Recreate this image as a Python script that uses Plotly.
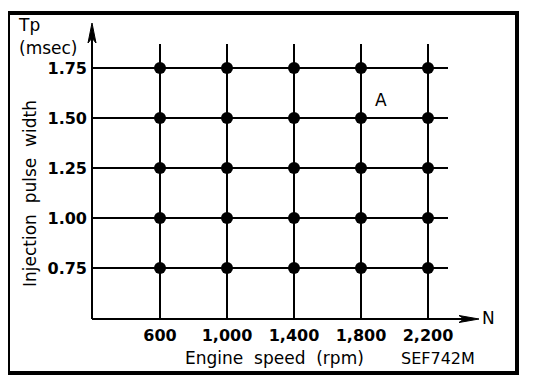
import plotly.graph_objects as go

# ---- data ----
engine_speed = [600, 1000, 1400, 1800, 2200]
pulse_width = [0.75, 1.00, 1.25, 1.50, 1.75]
x_tick_labels = ["600", "1,000", "1,400", "1,800", "2,200"]
y_tick_labels = ["0.75", "1.00", "1.25", "1.50", "1.75"]

# ---- layout geometry (page pixels; page has an 8px body margin) ----
W, H = 544, 384
OFF = 8
PL, PR, PT, PB = 92, 479, 23, 319        # plot area in page pixels
XS = 268 / 1600.0                         # px per rpm
YS = 200.0                                # px per msec


def xd(px):
    return 600 + (px - 160) / XS


def yd(py):
    return 1.75 - (py - 68) / YS


def fx(px):
    return (px - PL) / (PR - PL)


def fy(py):
    return (PB - py) / (PB - PT)


xr = [xd(PL), xd(PR)]
yr = [yd(PB), yd(PT)]

FONT = "DejaVu Sans"
fig = go.Figure()

# grid lines through each point
x_lo, x_hi = xr[0], xd(448)
y_lo, y_hi = yr[0], yd(44)
for yv in pulse_width:
    fig.add_trace(go.Scatter(x=[x_lo, x_hi], y=[yv, yv], mode="lines",
                             line=dict(color="black", width=2),
                             hoverinfo="skip", showlegend=False))
for xv in engine_speed:
    fig.add_trace(go.Scatter(x=[xv, xv], y=[y_lo, y_hi], mode="lines",
                             line=dict(color="black", width=2),
                             hoverinfo="skip", showlegend=False))

# points
px_, py_ = [], []
for yv in pulse_width:
    for xv in engine_speed:
        px_.append(xv)
        py_.append(yv)
fig.add_trace(go.Scatter(x=px_, y=py_, mode="markers",
                         marker=dict(color="black", size=12),
                         showlegend=False, cliponaxis=False))

shapes = []
LW = 2
# axes lines (paper coords, not clipped)
shapes.append(dict(type="line", xref="paper", yref="paper", x0=fx(PL), x1=fx(466),
                   y0=fy(PB), y1=fy(PB), line=dict(color="black", width=LW)))
shapes.append(dict(type="line", xref="paper", yref="paper", x0=fx(PL), x1=fx(PL),
                   y0=fy(PB), y1=fy(36), line=dict(color="black", width=LW)))
# arrowheads (dart shapes)
tx, ty = PR, PB
p = (f"M {fx(tx)},{fy(ty)} L {fx(tx-20)},{fy(ty-3.5)} L {fx(tx-15)},{fy(ty)} "
     f"L {fx(tx-20)},{fy(ty+3.5)} Z")
shapes.append(dict(type="path", xref="paper", yref="paper", path=p, fillcolor="black",
                   line=dict(color="black", width=1)))
tx, ty = PL, PT
p = (f"M {fx(tx)},{fy(ty)} L {fx(tx-4)},{fy(ty+20)} L {fx(tx)},{fy(ty+15)} "
     f"L {fx(tx+4)},{fy(ty+20)} Z")
shapes.append(dict(type="path", xref="paper", yref="paper", path=p, fillcolor="black",
                   line=dict(color="black", width=1)))
# outer frame
shapes.append(dict(type="rect", xref="paper", yref="paper",
                   x0=fx(8), x1=fx(517), y0=fy(373), y1=fy(13),
                   line=dict(color="black", width=4)))


def ann(text, px, py, size=16, angle=0):
    return dict(text=text, x=fx(px), y=fy(py), xref="paper", yref="paper", showarrow=False,
                xanchor="center", yanchor="middle", textangle=angle,
                font=dict(family=FONT, size=size, color="black"))


annotations = [
    ann("Tp", 29, 25, 17),
    ann("(msec)", 48, 48, 17),
    ann("Injection  pulse  width", 30, 194, 17, -90),
    ann("Engine  speed  (rpm)", 274, 358, 17),
    ann("SEF742M", 438, 358, 16),
    ann("N", 489, 318, 17),
    ann("A", 381, 100, 17),
]

fig.update_layout(
    width=W, height=H,
    margin=dict(l=PL - OFF, r=W - (PR - OFF), t=PT - OFF, b=H - (PB - OFF), pad=0),
    paper_bgcolor="white", plot_bgcolor="white",
    shapes=shapes, annotations=annotations,
    xaxis=dict(range=xr, showgrid=False, zeroline=False, showline=False,
               tickmode="array", tickvals=engine_speed, ticktext=x_tick_labels,
               ticks="", ticklabelstandoff=5,
               tickfont=dict(family=FONT, size=16, color="black", weight="bold")),
    yaxis=dict(range=yr, showgrid=False, zeroline=False, showline=False,
               tickmode="array", tickvals=pulse_width, ticktext=y_tick_labels,
               ticks="", ticklabelstandoff=4,
               tickfont=dict(family=FONT, size=16, color="black", weight="bold")),
)

fig.write_html("out.html")
